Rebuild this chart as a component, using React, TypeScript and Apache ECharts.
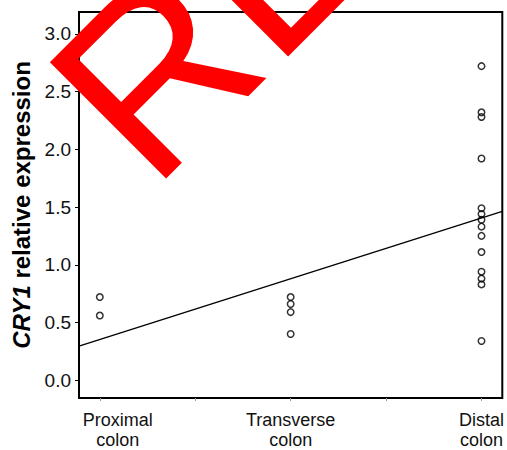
import React, { useEffect, useRef } from "react";
import * as echarts from "echarts";

const categories = ["Proximal", "Transverse", "Distal"];
const categoryPositions = [1, 2, 3];
const proximal = [0.72, 0.56];
const transverse = [0.72, 0.66, 0.59, 0.4];
const distal = [2.72, 2.32, 2.28, 1.92, 1.49, 1.44, 1.39, 1.33, 1.25, 1.11, 0.94, 0.88, 0.83, 0.34];
const yTicks = [0, 0.5, 1, 1.5, 2, 2.5, 3];
const xTicks = [1, 1.5, 2, 2.5, 3];
const X_MIN = 0.891;
const X_MAX = 3.109;
const Y_MIN = -0.154;
const Y_MAX = 3.189;

const FONT = "'Liberation Sans', Arial, Helvetica, sans-serif";

export default function App() {
  const ref = useRef<HTMLDivElement>(null);
  useEffect(() => {
    document.body.style.margin = "0";
    if (!ref.current) return;
    const chart = echarts.init(ref.current, null, { renderer: "svg" });

    const groups = [proximal, transverse, distal];
    const points: number[][] = [];
    groups.forEach((g, i) => g.forEach((v) => points.push([categoryPositions[i], v])));
    // least-squares regression line
    const n = points.length;
    const mx = points.reduce((s, p) => s + p[0], 0) / n;
    const my = points.reduce((s, p) => s + p[1], 0) / n;
    let sxx = 0, sxy = 0;
    points.forEach((p) => {
      sxx += (p[0] - mx) * (p[0] - mx);
      sxy += (p[0] - mx) * (p[1] - my);
    });
    const slope = sxy / sxx;
    const icpt = my - slope * mx;
    const fit = [X_MIN, X_MAX].map((x) => [x, icpt + slope * x]);

    chart.setOption({
      animation: false,
      textStyle: { fontFamily: FONT },
      grid: {
        left: 79,
        right: 2,
        top: 12,
        bottom: 48,
        show: true,
        borderColor: "#000",
        borderWidth: 2,
        backgroundColor: "transparent",
      },
      xAxis: {
        type: "value",
        min: X_MIN,
        max: X_MAX,
        splitLine: { show: false },
        axisLine: { show: true, onZero: false, lineStyle: { color: "#000", width: 1.5 } },
        axisTick: {
          show: true,
          customValues: xTicks,
          length: 3,
          lineStyle: { color: "#999", width: 1 },
        },
        axisLabel: {
          customValues: categoryPositions,
          color: "#111",
          fontSize: 18,
          fontFamily: FONT,
          margin: 12,
          lineHeight: 20,
          formatter: (v: number) => {
            const i = categoryPositions.indexOf(Math.round(v));
            if (i < 0) return "";
            const st = i === 0 ? "p" : "n";
            return `{${st}|${categories[i]}}\n{${st}|colon}`;
          },
          rich: {
            p: { fontSize: 18, color: "#111", fontFamily: FONT, lineHeight: 20, padding: [0, 0, 0, 36] },
            n: { fontSize: 18, color: "#111", fontFamily: FONT, lineHeight: 20 },
          },
        },
      },
      yAxis: {
        type: "value",
        min: Y_MIN,
        max: Y_MAX,
        splitLine: { show: false },
        axisLine: { show: true, onZero: false, lineStyle: { color: "#000", width: 1.5 } },
        axisTick: { show: true, customValues: yTicks, length: 4, lineStyle: { color: "#000", width: 1 } },
        axisLabel: {
          customValues: yTicks,
          color: "#111",
          fontSize: 19,
          fontFamily: FONT,
          margin: 8,
          formatter: (v: number) => v.toFixed(1),
        },
        name: "{i|CRY1}{b| relative expression}",
        nameLocation: "middle",
        nameRotate: 90,
        nameGap: 42,
        nameTextStyle: {
          fontSize: 24,
          fontWeight: "bold",
          color: "#000",
          fontFamily: FONT,
          rich: {
            i: { fontSize: 24, fontWeight: "bold", fontStyle: "italic", color: "#000", fontFamily: FONT },
            b: { fontSize: 24, fontWeight: "bold", color: "#000", fontFamily: FONT },
          },
        },
      },
      series: [
        {
          type: "line",
          data: fit,
          symbol: "none",
          lineStyle: { color: "#000", width: 1.3 },
          z: 2,
          silent: true,
        },
        {
          type: "scatter",
          data: points,
          symbol: "circle",
          symbolSize: 6.5,
          itemStyle: { color: "rgba(0,0,0,0)", borderColor: "#000", borderWidth: 1.5 },
          z: 3,
        },
      ],
      graphic: [
        {
          type: "text",
          x: 94,
          y: 134,
          rotation: Math.PI / 4,
          z: 100,
          silent: true,
          style: {
            text: "RETRACTED",
            fill: "#ff0000",
            fontSize: 239,
            fontFamily: FONT,
            align: "left",
            verticalAlign: "middle",
          },
        },
      ],
    });
    return () => chart.dispose();
  }, []);
  return <div ref={ref} style={{ width: 507, height: 450 }} />;
}
